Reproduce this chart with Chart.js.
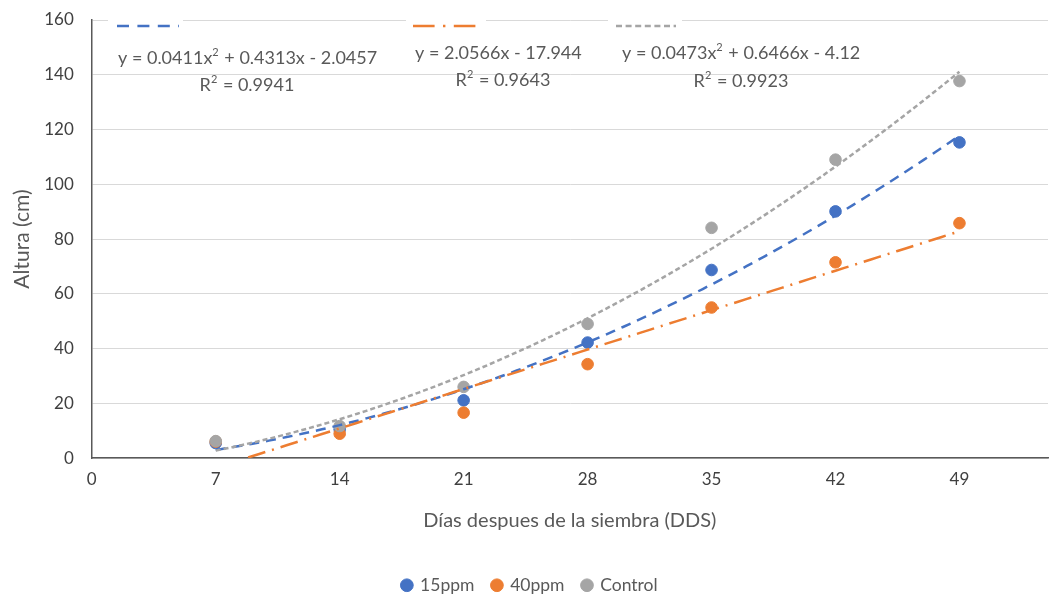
<!DOCTYPE html>
<html>
<head>
<meta charset="utf-8">
<script src="https://cdn.jsdelivr.net/npm/chart.js@4.4.1/dist/chart.umd.min.js"></script>
<style>
  html, body { margin: 0; padding: 0; background: #fff; }
  #wrap { width: 1059px; height: 595px; }
</style>
</head>
<body>
<div id="wrap"><canvas id="growthChart"></canvas></div>
<script>
// Datos
const days = [7, 14, 21, 28, 35, 42, 49];
const seriesNames = ['15ppm', '40ppm', 'Control'];
const height15 = [5.5, 10.5, 21.1, 42.2, 68.7, 90.1, 115.3];
const height40 = [6.0, 8.9, 16.6, 34.3, 55.0, 71.5, 85.8];
const heightControl = [6.2, 11.7, 26.0, 49.0, 84.1, 109.0, 137.7];

// Coeficientes de las líneas de tendencia [a, b, c] -> y = a·x² + b·x + c
const trend15 = [0.0411, 0.4313, -2.0457];
const trend40 = [0, 2.0566, -17.944];
const trendControl = [0.0473, 0.6466, -4.12];
const trendEquations = ['y = 0.0411x² + 0.4313x - 2.0457', 'y = 2.0566x - 17.944', 'y = 0.0473x² + 0.6466x - 4.12'];
const rSquared = ['R² = 0.9941', 'R² = 0.9643', 'R² = 0.9923'];

const colors = ['#4472C4', '#ED7D31', '#A5A5A5'];
const FONT = "Lato, 'Liberation Sans', sans-serif";

function toPoints(ys) {
  return days.map((d, i) => ({ x: d, y: ys[i] }));
}

// Curva de tendencia evaluada desde su ecuación
function trendCurve(coef) {
  const pts = [];
  for (let x = days[0]; x <= days[days.length - 1] + 1e-9; x += 0.5) {
    pts.push({ x: x, y: coef[0] * x * x + coef[1] * x + coef[2] });
  }
  return pts;
}

const scatterSets = [height15, height40, heightControl].map((ys, i) => ({
  label: seriesNames[i],
  type: 'scatter',
  data: toPoints(ys),
  backgroundColor: colors[i],
  borderColor: colors[i],
  pointRadius: 5.8,
  pointHoverRadius: 5.8,
  order: 6 - i
}));

const dashes = [[10, 7], [18, 7, 2, 7], [5, 3]];
const trendSets = [trend15, trend40, trendControl].map((coef, i) => ({
  label: 'trend' + i,
  type: 'line',
  data: trendCurve(coef),
  borderColor: colors[i],
  borderWidth: 2.5,
  borderDash: dashes[i],
  pointRadius: 0,
  fill: false,
  tension: 0,
  order: 3 - i
}));

// Texto con superíndice "²" dibujado a mano
function drawRich(ctx, text, x, y, size, align) {
  const parts = text.split('²');
  const supFont = Math.round(size * 0.62) + 'px ' + FONT;
  let total = 0;
  parts.forEach((p, i) => {
    ctx.font = size + 'px ' + FONT;
    total += ctx.measureText(p).width;
    if (i < parts.length - 1) {
      ctx.font = supFont;
      total += ctx.measureText('2').width + 1;
    }
  });
  let cx = align === 'center' ? x - total / 2 : x;
  ctx.textAlign = 'left';
  parts.forEach((p, i) => {
    ctx.font = size + 'px ' + FONT;
    ctx.fillText(p, cx, y);
    cx += ctx.measureText(p).width;
    if (i < parts.length - 1) {
      ctx.font = supFont;
      ctx.fillText('2', cx, y - size * 0.32);
      cx += ctx.measureText('2').width + 1;
    }
  });
}

// Etiquetas de ecuaciones y claves de tendencia (posiciones del original)
const trendLabelPlugin = {
  id: 'trendLabels',
  afterDraw(chart) {
    const ctx = chart.ctx;
    const boxes = [
      { x: 108, w: 75, keyX: 117, keyW: 62, eqX: 118, eqY: 58, r2X: 247, r2Y: 85 },
      { x: 406, w: 80, keyX: 413, keyW: 66, eqX: 415, eqY: 53, r2X: 503, r2Y: 80 },
      { x: 608, w: 74, keyX: 616, keyW: 60, eqX: 622, eqY: 53, r2X: 741, r2Y: 81 }
    ];
    ctx.save();
    boxes.forEach((b, i) => {
      ctx.fillStyle = '#ffffff';
      ctx.fillRect(b.x, 14, b.w, 16);
      ctx.strokeStyle = colors[i];
      ctx.lineWidth = 2.5;
      ctx.setLineDash(dashes[i].map(v => v * 1.2));
      ctx.beginPath();
      ctx.moveTo(b.keyX, 26);
      ctx.lineTo(b.keyX + b.keyW, 26);
      ctx.stroke();
      ctx.setLineDash([]);
      ctx.fillStyle = '#595959';
      ctx.textBaseline = 'middle';
      drawRich(ctx, trendEquations[i], b.eqX, b.eqY, 18, 'left');
      drawRich(ctx, rSquared[i], b.r2X, b.r2Y, 18, 'center');
    });
    ctx.restore();
  }
};

new Chart(document.getElementById('growthChart'), {
  data: { datasets: scatterSets.concat(trendSets) },
  options: {
    responsive: true,
    maintainAspectRatio: false,
    animation: false,
    layout: { padding: { left: 10, right: 9, top: 20, bottom: -9 } },
    plugins: {
      tooltip: { enabled: false },
      legend: {
        position: 'bottom',
        labels: {
          color: '#595959',
          font: { family: FONT, size: 17.5 },
          usePointStyle: true,
          pointStyle: 'circle',
          boxWidth: 9,
          boxHeight: 9,
          padding: 18,
          filter: item => item.datasetIndex < 3,
          sort: (a, b) => a.datasetIndex - b.datasetIndex
        }
      }
    },
    scales: {
      x: {
        type: 'linear',
        min: 0,
        max: 54,
        grid: { display: false, drawTicks: false },
        border: { display: true, color: '#595959', width: 1.5 },
        ticks: {
          stepSize: 7,
          color: '#404040',
          padding: 11,
          font: { family: FONT, size: 17 },
          callback: v => (v % 7 === 0 ? v : '')
        },
        title: {
          display: true,
          text: 'Días despues de la siembra (DDS)',
          color: '#595959',
          font: { family: FONT, size: 20 },
          padding: { top: 8, bottom: 26 }
        }
      },
      y: {
        min: 0,
        max: 160,
        afterFit: scale => { scale.paddingTop = 0; },
        grid: { color: '#d9d9d9', lineWidth: 1, drawTicks: false },
        border: { display: true, color: '#595959', width: 1.5 },
        ticks: {
          stepSize: 20,
          color: '#404040',
          padding: 18,
          font: { family: FONT, size: 17 }
        },
        title: {
          display: true,
          text: 'Altura (cm)',
          color: '#595959',
          font: { family: FONT, size: 21 },
          padding: { top: 0, bottom: -9 }
        }
      }
    }
  },
  plugins: [trendLabelPlugin]
});
</script>
</body>
</html>
